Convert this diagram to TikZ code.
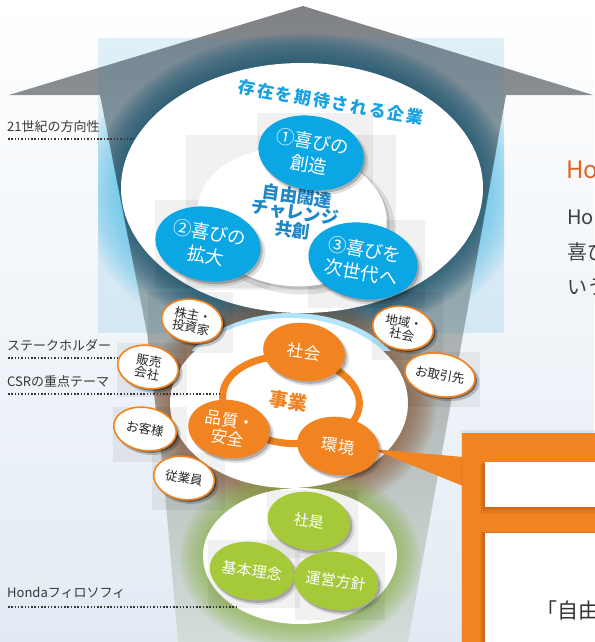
\documentclass[tikz,border=0pt]{standalone}
\usepackage{fontspec}
\setmainfont{Noto Sans CJK JP}
\usetikzlibrary{shapes.geometric,shadows}
\definecolor{cblue}{HTML}{0BA7E5}
\definecolor{ctxtblue}{HTML}{18A2E2}
\definecolor{cctr}{HTML}{1D87C9}
\definecolor{corange}{HTML}{F18421}
\definecolor{cgreen}{HTML}{A6C93A}
\definecolor{cgray}{HTML}{7F8185}
\definecolor{cgraymid}{HTML}{7E8489}
\definecolor{cpale}{HTML}{D3DDD9}
\definecolor{cteal}{HTML}{1A5570}
\definecolor{cbrown}{HTML}{8A5532}
\definecolor{cglow}{HTML}{3FBFF0}
\definecolor{cgreenglow}{HTML}{86B23A}
\definecolor{clabel}{HTML}{383838}
\definecolor{bgblue}{HTML}{E2EBF4}
\definecolor{bgmid}{HTML}{F3F7FA}
\definecolor{ctint}{HTML}{1E92CC}
\definecolor{cho}{HTML}{E2631C}
\definecolor{cdarkor}{HTML}{9C4A12}
\begin{document}
\begin{tikzpicture}[x=1pt,y=-1pt,
  softsh/.style={drop shadow={shadow xshift=3pt,shadow yshift=-3.5pt,opacity=.12,fill=black,shadow scale=1.03},
                 drop shadow={shadow xshift=2pt,shadow yshift=-2.5pt,opacity=.22,fill=black}},
  darksh/.style={drop shadow={shadow xshift=3pt,shadow yshift=-3pt,opacity=.2,fill=black,shadow scale=1.04},
                 drop shadow={shadow xshift=2pt,shadow yshift=-2pt,opacity=.4,fill=black}},
  bluec/.style={ellipse, fill=cblue, text=white, minimum width=106pt, minimum height=74pt, inner sep=0pt,
                align=center, font=\fontsize{18.5}{23}\selectfont, rotate=-10, softsh},
  orc/.style={ellipse, fill=corange, text=white, minimum width=82pt, minimum height=58pt, inner sep=0pt,
                align=center, font=\fontsize{16.5}{18}\selectfont, rotate=-8, softsh},
  grc/.style={ellipse, fill=cgreen, text=white, minimum width=83pt, minimum height=58pt, inner sep=0pt,
                align=center, font=\fontsize{15}{16}\selectfont, rotate=-8, softsh},
  stk/.style={ellipse, draw=corange, line width=1.6pt, fill=white, text=black!85, minimum width=61pt,
                minimum height=43pt, inner sep=0pt, align=center, font=\fontsize{12.5}{13}\selectfont,
                rotate=-10, darksh},
  bigell/.style={ellipse, fill=white, inner sep=0pt},
  lbl/.style={anchor=west, inner sep=0pt, text=clabel, font=\fontsize{13}{13}\selectfont},
  dotl/.style={draw=clabel, line width=1.5pt, dash pattern=on 1.5pt off 1.8pt},
  artbox/.style={fill=black, opacity=0.055}
]
\useasboundingbox (0,0) rectangle (594,642);
% background
\shade[top color=white, middle color=bgmid, bottom color=bgblue] (0,0) rectangle (594,642);
% cyan glow around the big ellipse, inside the light blue panel
\begin{scope}
  \clip (98,38) rectangle (504,333);
  \foreach \i in {1,...,14}
    \fill[cglow, opacity=0.06] (302,190) ellipse [x radius={181pt+3pt*\i}, y radius={125pt+3pt*\i}];
\end{scope}
% arrow
\shade[top color=cgray, middle color=cgraymid, bottom color=cpale]
  (303,6) -- (593,95) -- (506,95) -- (408,642) -- (178,642) -- (163,470) -- (147,333) -- (100,95) -- (9,95) -- cycle;
% light blue panel tint
\fill[ctint, opacity=0.13] (98,38) rectangle (504,333);
% halos inside the arrow
\begin{scope}
  \clip (303,6) -- (593,95) -- (506,95) -- (408,642) -- (178,642) -- (163,470) -- (147,333) -- (100,95) -- (9,95) -- cycle;
  \foreach \i in {1,...,15}
    \fill[cteal, opacity=0.08] (302,188) ellipse [x radius={181pt+2pt*\i}, y radius={125pt+2pt*\i}];
  \foreach \i in {1,...,13}
    \fill[cbrown, opacity=0.07] (289,405) ellipse [x radius={119pt+2.2pt*\i}, y radius={85pt+2.2pt*\i}];
  \foreach \i in {1,...,12}
    \fill[cgreenglow, opacity=0.065] (300,558) ellipse [x radius={97pt+2pt*\i}, y radius={68pt+2pt*\i}];
\end{scope}
\begin{scope}
  \clip (170,300) rectangle (430,350);
  \fill[cglow!40] (291,399) ellipse [x radius=120pt, y radius=86pt];
\end{scope}
% main white ellipses
\node[bigell, minimum width=362pt, minimum height=250pt] (big) at (302,188) {};
\node[bigell, minimum width=238pt, minimum height=170pt] (mid) at (289,403) {};
\node[bigell, minimum width=194pt, minimum height=136pt] (bot) at (300,556) {};
% flattened shadow boxes
\fill[artbox] (186,135) rectangle (396,290);
\fill[artbox] (257,113) rectangle (373,200);
\fill[artbox] (155,200) rectangle (270,288);
\fill[artbox] (308,220) rectangle (425,308);
\fill[artbox] (148,292) rectangle (233,353);
\fill[artbox] (117,343) rectangle (187,397);
\fill[artbox] (372,292) rectangle (443,360);
\fill[artbox] (407,352) rectangle (480,407);
\fill[artbox] (113,407) rectangle (187,462);
\fill[artbox] (152,453) rectangle (225,510);
\fill[artbox] (267,490) rectangle (358,558);
\fill[artbox] (208,540) rectangle (300,608);
\fill[artbox] (295,552) rectangle (385,620);
% top ellipse content
\node[ellipse, fill=white, minimum width=190pt, minimum height=138pt, rotate=-6,
      drop shadow={shadow xshift=4pt,shadow yshift=-5pt,opacity=.10,fill=black,shadow scale=1.04},
      drop shadow={shadow xshift=3pt,shadow yshift=-3pt,opacity=.12,fill=black}] (inner) at (292,217) {};
\node[text=cctr, font=\bfseries\fontsize{17.5}{16.5}\selectfont, align=center, rotate=-8, inner sep=0pt]
  (values) at (295,213) {自由闊達\\チャレンジ\\共創};
\node[bluec] (joy1) at (311,153) {①喜びの\\創造};
\node[bluec] (joy2) at (208,244) {②喜びの\\拡大};
\node[bluec, minimum width=110pt, minimum height=76pt] (joy3) at (363,261) {③喜びを\\次世代へ};
\foreach \c [count=\i from 0] in {存,在,を,期,待,さ,れ,る,企,業}
  \node[font=\bfseries\fontsize{17}{17}\selectfont, text=ctxtblue, rotate=-10, inner sep=0pt]
    (tt\i) at ({247+18.67*\i},{88+3.22*\i}) {\c};
% middle ellipse content
\node[ellipse, draw=corange, line width=7pt, fill=white, minimum width=137pt, minimum height=87pt,
      inner sep=0pt, rotate=-5] (ring) at (291,400) {};
\node[text=corange, font=\bfseries\fontsize{19}{19}\selectfont, rotate=-8, inner sep=0pt] (biz) at (288,401) {事業};
\node[orc] (soc) at (304,352) {社会};
\node[orc] (qual) at (229,429) {品質・\\安全};
\fill[corange] (372,449) -- (463,457) -- (463,486) -- cycle;
\node[orc] (env) at (338,446) {環境};
% stakeholders
\node[stk] (sh1) at (192,321) {株主・\\投資家};
\node[stk] (sh2) at (148,367) {販売\\会社};
\node[stk] (sh3) at (403,328) {地域・\\社会};
\node[stk, minimum width=64pt] (sh4) at (440,375) {お取引先};
\node[stk, minimum width=63pt] (sh5) at (145,429) {お客様};
\node[stk] (sh6) at (184,478) {従業員};
% bottom ellipse content
\node[grc] (g1) at (309,521) {社是};
\node[grc] (g2) at (252,571) {基本理念};
\node[grc] (g3) at (336,581) {運営方針};
% left labels
\node[lbl] (lab1) at (7,127) {21世紀の方向性};
\node[lbl] (lab2) at (7,345) {ステークホルダー};
\node[lbl] (lab3) at (7,382) {CSRの重点テーマ};
\node[lbl] (lab4) at (7,593) {Hondaフィロソフィ};
\coordinate (d1a) at (8,139); \coordinate (d1b) at (134,139);
\coordinate (d2a) at (8,358); \coordinate (d2b) at (117,358);
\coordinate (d3a) at (8,394); \coordinate (d3b) at (220,394);
\coordinate (d4a) at (8,607); \coordinate (d4b) at (236,607);
\draw[dotl] (d1a) -- (d1b);
\draw[dotl] (d2a) -- (d2b);
\draw[dotl] (d3a) -- (d3b);
\draw[dotl] (d4a) -- (d4b);
% callout panel
\fill[black, opacity=0.06] (461,430) rectangle (600,650);
\fill[corange] (462,433) rectangle (600,650);
\foreach \i in {1,...,6}
  \fill[cdarkor, opacity=0.09] ({485-0.9*\i},{462+0.3*\i}) rectangle (600,{507+1.1*\i});
\fill[white] (485,462) rectangle (600,507);
\foreach \i in {1,...,6}
  \fill[cdarkor, opacity=0.09] ({485-0.9*\i},{533-0.2*\i}) rectangle (600,650);
\fill[white] (485,533) rectangle (600,650);
\node[anchor=west, inner sep=0pt, text=black!80, font=\fontsize{21}{21}\selectfont] (quote) at (536,610) {「自由};
% right texts
\node[anchor=west, inner sep=0pt, text=cho, font=\fontsize{24}{24}\selectfont] (hoa) at (566,170) {Ho};
\node[anchor=west, inner sep=0pt, text=black!75, font=\fontsize{20}{20}\selectfont] (hob) at (567,217) {Ho};
\node[anchor=west, inner sep=0pt, text=black!75, font=\fontsize{20}{20}\selectfont] (hoc) at (567,252) {喜び};
\node[anchor=west, inner sep=0pt, text=black!75, font=\fontsize{20}{20}\selectfont] (hod) at (567,287) {いう};
\end{tikzpicture}
\end{document}
